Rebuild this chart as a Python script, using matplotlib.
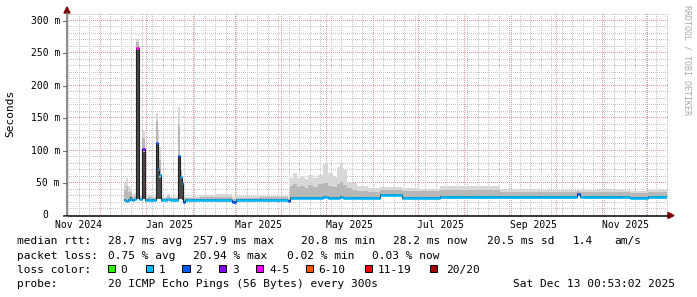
import numpy as np
import pandas as pd
import matplotlib
matplotlib.use("Agg")
import matplotlib.pyplot as plt
import matplotlib.transforms as mtransforms
from matplotlib.lines import Line2D
from matplotlib.patches import Polygon, Rectangle


# =========================
# 1. Data (days after 2024-12-01, values in ms)
# =========================
BASE = pd.Timestamp("2024-12-01")
X_START = -22.0
T_END = 378.3

t_day = [16.0, 17.3, 18.7, 20.0, 21.4, 22.7, 24.0, 26.2, 27.8, 30.0,
         32.0, 34.7, 37.4, 38.5, 39.6, 40.7, 44.7, 46.7, 51.8, 53.6,
         54.7, 55.6, 56.7, 66.7, 76.7, 87.9, 90.8, 106.8, 125.7, 126.8,
         128.8, 131.4, 133.5, 136.8, 138.8, 142.1, 145.5, 148.8, 152.1, 155.5,
         158.1, 160.1, 162.2, 164.8, 168.2, 171.5, 178.8, 186.8, 201.5, 213.5,
         226.9, 246.9, 266.9, 293.6, 318.3, 320.3, 333.6, 347.0, 353.7, 365.7]

median_ms = [23.5, 22.5, 23.5, 26.0, 24.0, 25.0, 257.9, 25.0, 102.0, 24.0,
             24.5, 24.0, 112.0, 71.0, 62.0, 24.0, 25.0, 24.0, 92.0, 60.0,
             50.5, 21.0, 24.0, 24.0, 24.0, 21.5, 24.0, 24.5, 22.5, 27.5,
             27.5, 27.0, 27.5, 27.0, 27.5, 27.0, 27.5, 28.0, 27.5, 27.0,
             27.5, 28.0, 27.5, 27.0, 27.0, 27.0, 27.0, 32.0, 27.5, 27.5,
             28.5, 28.5, 28.0, 28.0, 33.0, 28.0, 28.5, 28.0, 27.0, 28.0]

# index into loss_labels / loss_colors
loss_idx = [1, 1, 1, 1, 1, 1, 4, 1, 3, 1,
            1, 1, 2, 1, 1, 1, 1, 1, 2, 1,
            1, 2, 1, 1, 1, 2, 1, 1, 2, 1,
            1, 1, 1, 1, 1, 1, 1, 1, 1, 1,
            1, 1, 1, 1, 1, 1, 1, 1, 1, 1,
            1, 1, 1, 1, 2, 1, 1, 1, 1, 1]

smoke_lo = [22.5, 21.5, 22.5, 23.0, 23.0, 24.0, 26.0, 24.0, 26.0, 23.0,
            23.5, 23.0, 26.0, 26.0, 25.0, 23.0, 24.0, 23.0, 26.0, 25.0,
            24.0, 20.0, 23.0, 23.0, 23.0, 20.5, 23.0, 23.5, 21.5, 26.5,
            26.5, 26.0, 26.5, 26.0, 26.5, 26.0, 26.5, 27.0, 26.5, 26.0,
            26.5, 27.0, 26.5, 26.0, 26.0, 26.0, 26.0, 31.0, 26.5, 26.5,
            27.5, 27.5, 27.0, 27.0, 31.0, 27.0, 27.5, 27.0, 26.0, 27.0]

smoke_p50 = [25, 24, 25, 28, 25, 26, 255, 26, 98, 25,
             25.5, 25, 110, 68, 58, 25, 26, 25, 90, 58,
             48, 22, 25, 25, 25, 22.5, 25, 25.5, 23.5, 29,
             29, 28.5, 29, 28.5, 29, 28.5, 29, 29.5, 29, 28.5,
             29, 29.5, 29, 28.5, 28.5, 28.5, 28.5, 33.5, 29, 29,
             30, 30, 29.5, 29.5, 34.5, 29.5, 30, 29.5, 28.5, 29.5]

smoke_p90 = [40, 45, 36, 36, 28, 30, 268, 29, 120, 27,
             29, 27, 145, 110, 85, 27, 30, 27, 140, 68,
             56, 26, 27, 28, 29, 26, 27, 28, 26, 45,
             48, 44, 46, 42, 47, 44, 48, 50, 46, 44,
             48, 52, 47, 42, 40, 38, 37, 40, 38, 38,
             40, 40, 37, 37, 38, 37, 37, 36, 35, 36]

smoke_max = [50, 58, 46, 42, 33, 34, 272, 32, 130, 29,
             31, 29, 158, 132, 105, 29, 33, 29, 168, 72,
             60, 28, 29, 31, 33, 29, 30, 30, 28, 58,
             65, 58, 60, 56, 62, 58, 62, 79, 65, 60,
             75, 81, 70, 52, 50, 45, 42, 44, 43, 41,
             46, 45, 41, 40, 41, 40, 41, 39, 38, 39]

loss_labels = ["0", "1", "2", "3", "4-5", "6-10", "11-19", "20/20"]
loss_colors = ["#26ff00", "#00b8ff", "#0059ff", "#7e00ff",
               "#ff00ff", "#ff5500", "#ff0000", "#a10000"]

y_ticks = [0, 50, 100, 150, 200, 250, 300]
y_tick_labels = ["0", "50 m", "100 m", "150 m", "200 m", "250 m", "300 m"]

rtt_text = ["28.7 ms avg", "257.9 ms max", "20.8 ms min", "28.2 ms now",
            "20.5 ms sd", "1.4", "am/s"]
pl_text = ["0.75 % avg", "20.94 % max", "0.02 % min", "0.03 % now"]
probe_text = "20 ICMP Echo Pings (56 Bytes) every 300s"
date_text = "Sat Dec 13 00:53:02 2025"


# =========================
# 2. Figure / axes
# =========================
W, H = 697, 297
FONT = "DejaVu Sans Mono"
fig = plt.figure(figsize=(W / 100, H / 100), dpi=100)
fig.patch.set_facecolor("white")

# pixel coordinates (origin top-left)
pix = mtransforms.Affine2D().scale(1 / W, -1 / H).translate(0, 1) + fig.transFigure

y0_px, ytop_px = 215.5, 13.0
ax = fig.add_axes([67 / W, (H - y0_px) / H, 600 / W, (y0_px - ytop_px) / H])
ax.axis("off")
px_per_ms = (y0_px - 21.0) / 300.0
ax.set_xlim(X_START, T_END)
ax.set_ylim(0, (y0_px - ytop_px) / px_per_ms)


# =========================
# 3. Grid: 1px dots every other pixel, like rrdtool
# =========================
grid_c = "#c6c6c6"
mgrid_c = "#e09c9c"

date1 = BASE + pd.Timedelta(days=T_END)
weeks = pd.date_range("2024-11-01", date1, freq="W-SUN")
months = pd.date_range("2024-11-01", date1, freq="MS")
week_d = [(d - BASE).days for d in weeks if X_START < (d - BASE).days < T_END]
month_d = [(d - BASE).days for d in months if X_START < (d - BASE).days < T_END]

h_tr = mtransforms.blended_transform_factory(pix, ax.transData)  # x in px, y in ms
v_tr = mtransforms.blended_transform_factory(ax.transData, pix)  # x in days, y in px
dots_x = np.arange(68.5, 667, 2)
dots_y = np.arange(14.5, 215, 2)


def hgrid(v, c):
    ax.add_artist(Line2D(dots_x, np.full(len(dots_x), v), ls="None", marker=",",
                         color=c, transform=h_tr, zorder=1, clip_on=False))


def vgrid(d, c):
    ax.add_artist(Line2D(np.full(len(dots_y), d), dots_y, ls="None", marker=",",
                         color=c, transform=v_tr, zorder=1, clip_on=False))


for v in range(10, 320, 10):
    if v % 50 != 0:
        hgrid(v, grid_c)
for d in week_d:
    if d not in month_d:
        vgrid(d, grid_c)
for v in range(50, 320, 50):
    hgrid(v, mgrid_c)
for d in month_d:
    vgrid(d, mgrid_c)


# =========================
# 4. Smoke + median
# =========================
t_edges = np.array(t_day + [T_END])


def ext(a):
    a = np.asarray(a, dtype=float)
    return np.append(a, a[-1])


ax.fill_between(t_edges, ext(smoke_p90), ext(smoke_max), step="post",
                color="#d8d8d8", lw=0, zorder=2)
ax.fill_between(t_edges, ext(smoke_p50), ext(smoke_p90), step="post",
                color="#b8b8b8", lw=0, zorder=3)
ax.fill_between(t_edges, ext(smoke_lo), ext(smoke_p50), step="post",
                color="#4a4a4a", lw=0, zorder=4)

ax.step(t_edges, ext(median_ms), where="post", color="#202020", lw=0.8, zorder=5)
ax.hlines(median_ms, t_edges[:-1], t_edges[1:],
          colors=[loss_colors[i] for i in loss_idx], lw=1.9, zorder=6)


# =========================
# 5. Axes lines, arrows, ticks
# =========================
fig.add_artist(Line2D([67, 67], [216, 13], color="#6e6e6e", lw=1.1, transform=pix))
fig.add_artist(Line2D([64, 668], [215.5, 215.5], color="#000000", lw=1.1, transform=pix))
fig.add_artist(Polygon([[64, 13], [70, 13], [67, 7]], closed=True,
                       color="#800000", transform=pix))
fig.add_artist(Polygon([[668, 212.5], [668, 218.5], [674, 215.5]], closed=True,
                       color="#800000", transform=pix))

for v, lab in zip(y_ticks, y_tick_labels):
    fig.add_artist(Line2D([63, 67], [v, v], color="#6e6e6e", lw=0.8, transform=h_tr))
    xr = 60.0 if lab != "0" else 48.3
    fig.text(xr, v, lab, transform=h_tr, ha="right", va="center",
             fontsize=7, family=FONT, color="#000000")

for m in months:
    if m.month % 2 == 1:
        d = (m - BASE).days + 15.5
        fig.text(d, 228.5, m.strftime("%b %Y"), transform=v_tr, ha="center",
                 va="baseline", fontsize=7, family=FONT, color="#000000")

fig.text(10.5, 113.5, "Seconds", transform=pix, rotation=90, ha="center",
         va="center", fontsize=8, family=FONT)
fig.text(687.5, 60, "RRDTOOL / TOBI OETIKER", transform=pix, rotation=270,
         ha="center", va="center", fontsize=6, family=FONT, color="#a8a8a8")


# =========================
# 6. Legend
# =========================
rows_y = [244.4, 258.6, 272.8, 287.0]
kw = dict(transform=pix, fontsize=8, family=FONT, va="baseline", ha="left")

fig.text(16.7, rows_y[0], "median rtt:", **kw)
for s, x in zip(rtt_text, [107.7, 192.7, 300.7, 393.3, 486.7, 572.3, 614.3]):
    fig.text(x, rows_y[0], s, **kw)

fig.text(16.7, rows_y[1], "packet loss:", **kw)
for s, x in zip(pl_text, [107.7, 193.3, 287.0, 372.3]):
    fig.text(x, rows_y[1], s, **kw)

fig.text(16.7, rows_y[2], "loss color:", **kw)
box_x = [107.7, 145.7, 182.3, 219.0, 256.0, 306.0, 365.0, 430.0]
lab_x = [120.0, 158.3, 195.0, 232.5, 269.3, 318.3, 377.7, 446.0]
for lab, col, bx, lx in zip(loss_labels, loss_colors, box_x, lab_x):
    fig.add_artist(Rectangle((bx, 265.0), 7.3, 7.3, facecolor=col,
                             edgecolor="#000000", lw=0.7, transform=pix))
    fig.text(lx, rows_y[2], lab, **kw)

fig.text(16.7, rows_y[3], "probe:", **kw)
fig.text(107.7, rows_y[3], probe_text, **kw)
fig.text(513.3, rows_y[3], date_text, **kw)

fig.savefig("out.png", dpi=100, facecolor="white")
